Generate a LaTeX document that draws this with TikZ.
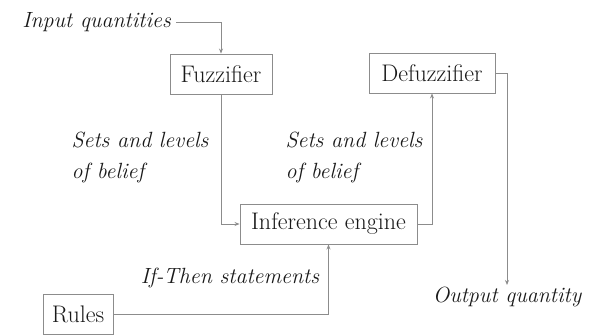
\documentclass[tikz,border=0pt]{standalone}
\usepackage{tikz}
\usetikzlibrary{arrows.meta, positioning}
\definecolor{boxgray}{RGB}{140, 140, 140}
\definecolor{textgray}{RGB}{25, 25, 25}

\begin{document}
\begin{tikzpicture}[
    x=1pt, y=-1pt,
    block/.style={draw=boxgray, line width=0.9pt, text=textgray, font=\fontsize{24}{28}\selectfont, minimum height=40pt, inner sep=3pt},
    tag/.style={text=textgray, font=\fontsize{22}{31}\selectfont\itshape, inner sep=2pt},
    link/.style={draw=boxgray, line width=0.9pt, -{Stealth[length=5pt, width=4pt]}},
]
\useasboundingbox (0,0) rectangle (593,335);

% Blocks
\node[block, minimum width=102pt] (fuzz) at (221,74) {Fuzzifier};
\node[block, minimum width=126pt] (defuzz) at (432,73) {Defuzzifier};
\node[block, minimum width=177pt] (infer) at (328.5,224) {Inference engine};
\node[block, minimum width=70pt] (rules) at (78,314) {Rules};

% Inputs and outputs
\node[tag, anchor=east, inner xsep=5pt] (input) at (176,22) {Input quantities};
\node[tag, anchor=north] (output) at (507,285) {Output quantity};

% Edge labels
\node[tag, align=left] (setsl) at (140,157) {Sets and levels\\of belief};
\node[tag, align=left] (setsr) at (354,157) {Sets and levels\\of belief};
\node[tag] (ifthen) at (230,278) {If-Then statements};

% Edges
\draw[link] (input.east) -| (fuzz.north);
\draw[link] (fuzz.south) |- (infer.west);
\draw[link] (infer.east) -| (defuzz.south);
\draw[link] (defuzz.east) -| (output.north);
\draw[link] (rules.east) -| (infer.south);

\end{tikzpicture}
\end{document}
